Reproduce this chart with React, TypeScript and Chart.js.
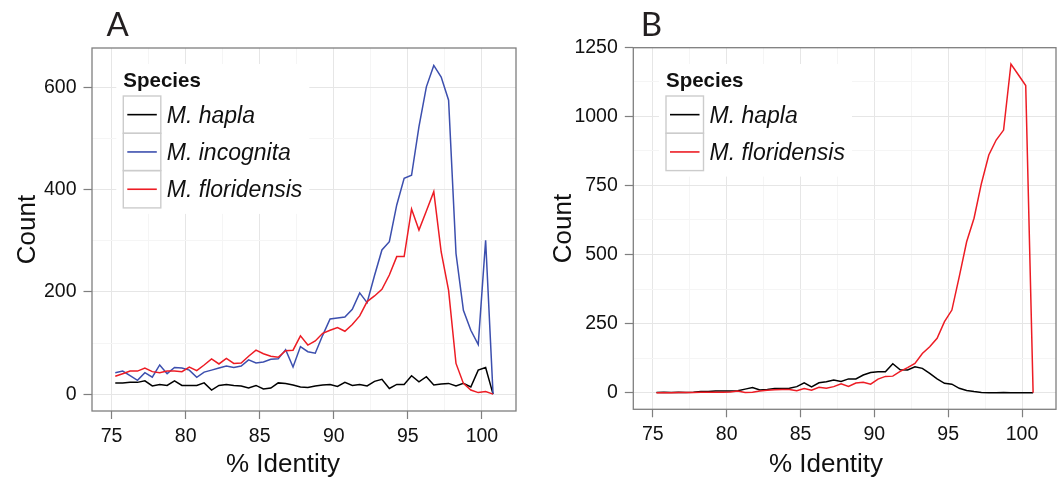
import React, { useEffect, useRef } from "react";
import { Chart, registerables } from "chart.js";

Chart.register(...registerables);

// ---------- data ----------
const identity = [
  75.25, 75.75, 76.25, 76.75, 77.25, 77.75, 78.25, 78.75, 79.25, 79.75,
  80.25, 80.75, 81.25, 81.75, 82.25, 82.75, 83.25, 83.75, 84.25, 84.75,
  85.25, 85.75, 86.25, 86.75, 87.25, 87.75, 88.25, 88.75, 89.25, 89.75,
  90.25, 90.75, 91.25, 91.75, 92.25, 92.75, 93.25, 93.75, 94.25, 94.75,
  95.25, 95.75, 96.25, 96.75, 97.25, 97.75, 98.25, 98.75, 99.25, 99.75,
  100.25, 100.75,
];

const haplaA = [
  22, 22, 23, 23, 26, 16, 19, 17, 26, 17,
  17, 17, 22, 8, 17, 19, 17, 16, 12, 17,
  10, 12, 22, 21, 18, 14, 13, 16, 18, 19,
  15, 23, 17, 19, 16, 25, 29, 11, 19, 19,
  36, 24, 34, 18, 20, 21, 16, 21, 14, 47,
  52, 0,
];

const incognitaA = [
  42, 45, 36, 27, 42, 33, 57, 40, 52, 51,
  47, 33, 43, 47, 51, 55, 52, 55, 67, 61,
  63, 68, 69, 87, 53, 93, 83, 80, 115, 147,
  149, 151, 166, 198, 179, 232, 282, 298, 370, 422,
  428, 523, 601, 643, 620, 575, 275, 164, 125, 97,
  301, 0,
];

const floridensisA = [
  35, 40, 45, 45, 51, 44, 42, 45, 45, 44,
  53, 46, 57, 69, 59, 70, 60, 61, 74, 86,
  79, 74, 72, 85, 86, 114, 96, 104, 119, 125,
  130, 123, 136, 153, 181, 192, 205, 233, 269, 269,
  362, 321, 358, 396, 278, 203, 60, 21, 8, 3,
  5, 0,
];

const haplaB = [
  1, 2, 1, 2, 1, 2, 4, 4, 6, 6,
  6, 7, 13, 19, 10, 12, 15, 15, 16, 22,
  36, 21, 36, 40, 46, 41, 50, 50, 64, 73,
  76, 76, 105, 83, 82, 94, 88, 70, 50, 34,
  31, 16, 8, 4, 1, 0, 0, 1, 0, 0,
  0, 0,
];

const floridensisB = [
  0, 0, 0, 1, 1, 1, 2, 2, 2, 2,
  3, 6, 1, 2, 6, 9, 11, 12, 12, 7,
  15, 9, 20, 16, 22, 32, 23, 35, 38, 31,
  49, 59, 60, 77, 91, 106, 142, 166, 197, 257,
  299, 420, 546, 631, 757, 860, 914, 950, 1189, 1150,
  1111, 0,
];

const speciesHapla = "M. hapla";
const speciesIncognita = "M. incognita";
const speciesFloridensis = "M. floridensis";

const xMajorTicks = [75, 80, 85, 90, 95, 100];
const xMinorTicks = [77.5, 82.5, 87.5, 92.5, 97.5];
const yMajorTicksA = [0, 200, 400, 600];
const yMinorTicksA = [100, 300, 500];
const yMajorTicksB = [0, 250, 500, 750, 1000, 1250];
const yMinorTicksB = [125, 375, 625, 875, 1125];

const xTitle = "% Identity";
const yTitle = "Count";
const legendTitle = "Species";

// ---------- styles ----------
const COLORS = {
  hapla: "#000000",
  incognita: "#3c4fae",
  floridensis: "#ed1c24",
  border: "#7f7f7f",
  gridMajor: "#e6e6e6",
  gridMinor: "#f5f5f5",
  keyBorder: "#cccccc",
  text: "#111111",
};
const SANS = '"Liberation Sans", Arial, sans-serif';

const W = 1058;
const H = 477;

type Panel = {
  letter: string;
  left: number;
  width: number;
  area: { left: number; top: number; right: number; bottom: number };
  xRange: [number, number];
  yRange: [number, number];
  yMajor: number[];
  yMinor: number[];
  letterX: number;
  letterY: number;
  yTitleX: number;
  xTitleX: number;
  xTitleY: number;
  legendX: number;
  datasets: { label: string; values: number[]; color: string; order: number }[];
};

const panels: Panel[] = [
  {
    letter: "A",
    left: 0,
    width: 529,
    area: { left: 92, top: 48, right: 516, bottom: 411 },
    xRange: [73.68, 102.3],
    yRange: [-33, 677],
    yMajor: yMajorTicksA,
    yMinor: yMinorTicksA,
    letterX: 106.5,
    letterY: 36,
    yTitleX: 34.5,
    xTitleX: 283,
    xTitleY: 471.5,
    legendX: 123.3,
    datasets: [
      { label: speciesHapla, values: haplaA, color: COLORS.hapla, order: 2 },
      { label: speciesIncognita, values: incognitaA, color: COLORS.incognita, order: 1 },
      { label: speciesFloridensis, values: floridensisA, color: COLORS.floridensis, order: 0 },
    ],
  },
  {
    letter: "B",
    left: 529,
    width: 529,
    area: { left: 104.3, top: 47.7, right: 527, bottom: 409.3 },
    xRange: [73.68, 102.3],
    yRange: [-60, 1248],
    yMajor: yMajorTicksB,
    yMinor: yMinorTicksB,
    letterX: 111.7,
    letterY: 36,
    yTitleX: 41.5,
    xTitleX: 297,
    xTitleY: 471.5,
    legendX: 137,
    datasets: [
      { label: speciesHapla, values: haplaB, color: COLORS.hapla, order: 1 },
      { label: speciesFloridensis, values: floridensisB, color: COLORS.floridensis, order: 0 },
    ],
  },
];

const decorPlugin = {
  id: "ggDecor",
  afterDraw(chart: any, _args: any, opts: any) {
    const p: Panel = opts.panel;
    const { ctx, chartArea } = chart;
    ctx.save();

    // panel border
    ctx.strokeStyle = COLORS.border;
    ctx.lineWidth = 1.3;
    ctx.strokeRect(
      chartArea.left,
      chartArea.top,
      chartArea.right - chartArea.left,
      chartArea.bottom - chartArea.top
    );

    // panel letter
    ctx.fillStyle = "#231f20";
    ctx.font = '33px Lato, "Liberation Sans", sans-serif';
    ctx.textAlign = "left";
    ctx.textBaseline = "alphabetic";
    ctx.fillText(p.letter, p.letterX, p.letterY);

    // axis titles
    ctx.fillStyle = COLORS.text;
    ctx.font = `26px ${SANS}`;
    ctx.textAlign = "center";
    ctx.fillText(xTitle, p.xTitleX, p.xTitleY);
    ctx.save();
    ctx.translate(p.yTitleX, (chartArea.top + chartArea.bottom) / 2);
    ctx.rotate(-Math.PI / 2);
    ctx.fillText(yTitle, 0, 0);
    ctx.restore();

    // legend
    const ds = chart.data.datasets;
    const boxW = 37.5;
    const rowH = 37.3;
    const firstTop = 96;
    const labelFont = `italic 23px ${SANS}`;
    ctx.font = labelFont;
    let maxLabel = 0;
    ds.forEach((d: any) => {
      maxLabel = Math.max(maxLabel, ctx.measureText(d.label).width);
    });
    const bgLeft = p.legendX - 7;
    const bgTop = 64;
    const bgRight = p.legendX + boxW + 6 + maxLabel + 7;
    const bgBottom = firstTop + rowH * ds.length + 6;
    ctx.fillStyle = "#ffffff";
    ctx.fillRect(bgLeft, bgTop, bgRight - bgLeft, bgBottom - bgTop);

    ctx.fillStyle = COLORS.text;
    ctx.font = `bold 20.5px ${SANS}`;
    ctx.textAlign = "left";
    ctx.fillText(legendTitle, p.legendX, 87);

    ds.forEach((d: any, i: number) => {
      const top = firstTop + i * rowH;
      ctx.strokeStyle = COLORS.keyBorder;
      ctx.lineWidth = 1.4;
      ctx.strokeRect(p.legendX, top, boxW, rowH);
      const cy = top + rowH / 2;
      ctx.strokeStyle = d.borderColor;
      ctx.lineWidth = 1.6;
      ctx.beginPath();
      ctx.moveTo(p.legendX + 4, cy);
      ctx.lineTo(p.legendX + boxW - 4, cy);
      ctx.stroke();
      ctx.fillStyle = COLORS.text;
      ctx.font = labelFont;
      ctx.fillText(d.label, p.legendX + boxW + 6, cy + 8);
    });

    ctx.restore();
  },
};

function makeTickSetter(major: number[], minor: number[]) {
  return (scale: any) => {
    scale.ticks = [...major, ...minor]
      .sort((a, b) => a - b)
      .map((v) => ({ value: v }));
  };
}

function PanelChart({ p }: { p: Panel }) {
  const ref = useRef<HTMLCanvasElement | null>(null);

  useEffect(() => {
    if (!ref.current) return;
    const chart = new Chart(ref.current, {
      type: "line",
      data: {
        datasets: p.datasets.map((d) => ({
          label: d.label,
          data: identity.map((x, i) => ({ x, y: d.values[i] })),
          borderColor: d.color,
          backgroundColor: d.color,
          borderWidth: 1.5,
          pointRadius: 0,
          tension: 0,
          fill: false,
          order: d.order,
        })),
      },
      options: {
        responsive: false,
        animation: false,
        events: [],
        devicePixelRatio: window.devicePixelRatio || 1,
        layout: {
          padding: {
            left: 0,
            top: p.area.top,
            right: p.width - p.area.right,
            bottom: 0,
          },
        },
        plugins: {
          legend: { display: false },
          tooltip: { enabled: false },
          title: { display: false },
          ggDecor: { panel: p },
        } as any,
        scales: {
          x: {
            type: "linear",
            min: p.xRange[0],
            max: p.xRange[1],
            afterBuildTicks: makeTickSetter(xMajorTicks, xMinorTicks),
            afterFit: (scale: any) => {
              scale.height = H - p.area.bottom;
            },
            grid: {
              color: (c: any) =>
                c.tick && xMajorTicks.includes(c.tick.value) ? COLORS.gridMajor : COLORS.gridMinor,
              tickColor: (c: any) =>
                c.tick && xMajorTicks.includes(c.tick.value) ? COLORS.border : "rgba(0,0,0,0)",
              lineWidth: 1,
              tickLength: 8,
              tickWidth: 1.2,
              drawTicks: true,
            },
            border: { display: false },
            ticks: {
              autoSkip: false,
              maxRotation: 0,
              minRotation: 0,
              padding: 6,
              color: COLORS.text,
              font: { family: SANS, size: 19.5 },
              callback: (v: any) => (xMajorTicks.includes(Number(v)) ? String(v) : ""),
            },
          },
          y: {
            type: "linear",
            min: p.yRange[0],
            max: p.yRange[1],
            afterBuildTicks: makeTickSetter(p.yMajor, p.yMinor),
            afterFit: (scale: any) => {
              scale.width = p.area.left;
            },
            grid: {
              color: (c: any) =>
                c.tick && p.yMajor.includes(c.tick.value) ? COLORS.gridMajor : COLORS.gridMinor,
              tickColor: (c: any) =>
                c.tick && p.yMajor.includes(c.tick.value) ? COLORS.border : "rgba(0,0,0,0)",
              lineWidth: 1,
              tickLength: 8.5,
              tickWidth: 1.2,
              drawTicks: true,
            },
            border: { display: false },
            ticks: {
              autoSkip: false,
              padding: 7,
              color: COLORS.text,
              font: { family: SANS, size: 19.5 },
              callback: (v: any) => (p.yMajor.includes(Number(v)) ? String(v) : ""),
            },
          },
        },
      },
      plugins: [decorPlugin],
    });
    return () => chart.destroy();
  }, [p]);

  return (
    <canvas
      ref={ref}
      width={p.width}
      height={H}
      style={{ position: "absolute", left: p.left, top: 0, width: p.width, height: H }}
    />
  );
}

export default function App() {
  return (
    <div
      style={{
        position: "fixed",
        left: 0,
        top: 0,
        width: W,
        height: H,
        background: "#ffffff",
        overflow: "hidden",
      }}
    >
      {panels.map((p) => (
        <PanelChart key={p.letter} p={p} />
      ))}
    </div>
  );
}
